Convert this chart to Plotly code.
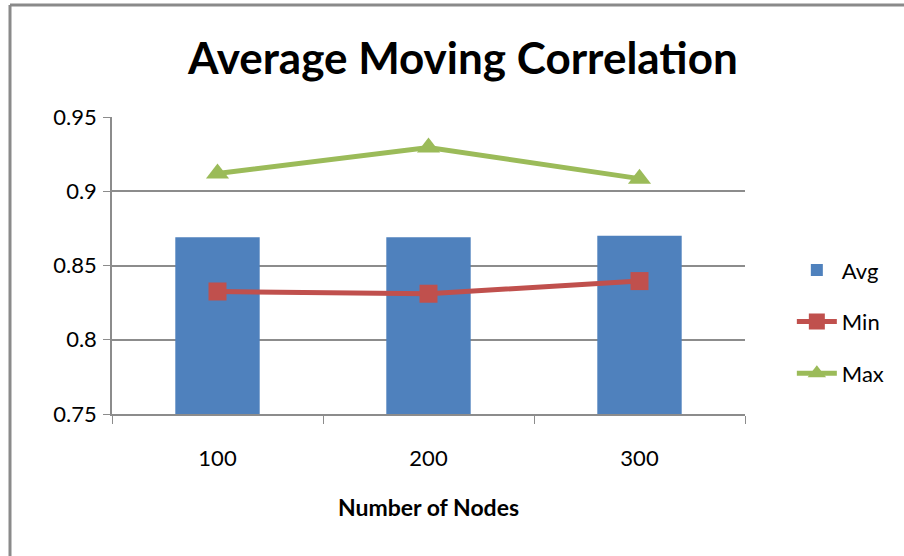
import plotly.graph_objects as go

# Data
nodes = ["100", "200", "300"]
avg_corr = [0.869, 0.869, 0.870]
min_corr = [0.8325, 0.831, 0.8395]
max_corr = [0.912, 0.9295, 0.9085]

BLUE = "#4F81BD"
RED = "#C0504D"
GREEN = "#9BBB59"
GRID = "#8C8C8C"
FONT = "Lato"

W, H = 904, 556
ML, MR, MT, MB = 112, 159, 117, 142

fig = go.Figure()
fig.add_trace(go.Bar(
    x=nodes, y=avg_corr, name="Avg", marker=dict(color=BLUE, line=dict(width=0)),
    legendgroup="a",
))
fig.add_trace(go.Scatter(
    x=nodes, y=min_corr, name="Min", mode="lines+markers",
    line=dict(color=RED, width=5), marker=dict(symbol="square", size=18, color=RED),
    legendgroup="b",
))
fig.add_trace(go.Scatter(
    x=nodes, y=max_corr, name="Max", mode="lines+markers",
    line=dict(color=GREEN, width=5), marker=dict(symbol="triangle-up", size=20, color=GREEN),
    legendgroup="c",
))

# outer chart frame (top and left edges)
pw = W - ML - MR
ph = H - MT - MB
fx0 = (10 - ML) / pw
fx1 = (W + 10 - ML) / pw
fy_top = 1 + (MT - 5) / ph
fy_bot = -(MB + 10) / ph
frame = dict(color="#8A8A8A", width=3)

fig.update_layout(
    width=W, height=H,
    margin=dict(l=ML, r=MR, t=MT, b=MB),
    paper_bgcolor="white", plot_bgcolor="white",
    font=dict(family=FONT, size=22, color="black"),
    title=dict(
        text="<b>Average Moving Correlation</b>",
        font=dict(family=FONT, size=44, color="black"),
        x=0.512, xanchor="center", y=0.895, yanchor="middle",
    ),
    bargap=0.6,
    showlegend=True,
    legend=dict(
        x=1.074, xanchor="left", y=0.555, yanchor="top",
        font=dict(family=FONT, size=22), tracegroupgap=20,
        bgcolor="rgba(0,0,0,0)", itemwidth=40,
    ),
    xaxis=dict(
        type="category", tickson="boundaries", ticks="outside", ticklen=8,
        tickcolor=GRID, showline=True, linecolor=GRID, linewidth=1.5,
        showgrid=False, ticklabelstandoff=24,
        title=dict(text="<b>Number of Nodes</b>", font=dict(family=FONT, size=23), standoff=30),
    ),
    yaxis=dict(
        range=[0.75, 0.95], dtick=0.05, tick0=0.75, ticks="outside", ticklen=7,
        tickcolor=GRID, showline=True, linecolor=GRID, linewidth=1.5,
        showgrid=True, gridcolor=GRID, gridwidth=1.5, zeroline=False,
        ticklabelstandoff=2,
    ),
    shapes=[
        dict(type="line", xref="paper", yref="paper", x0=fx0, x1=fx1, y0=fy_top, y1=fy_top, line=frame),
        dict(type="line", xref="paper", yref="paper", x0=fx0, x1=fx0, y0=fy_top, y1=fy_bot, line=frame),
    ],
)

fig.write_html("out.html")
